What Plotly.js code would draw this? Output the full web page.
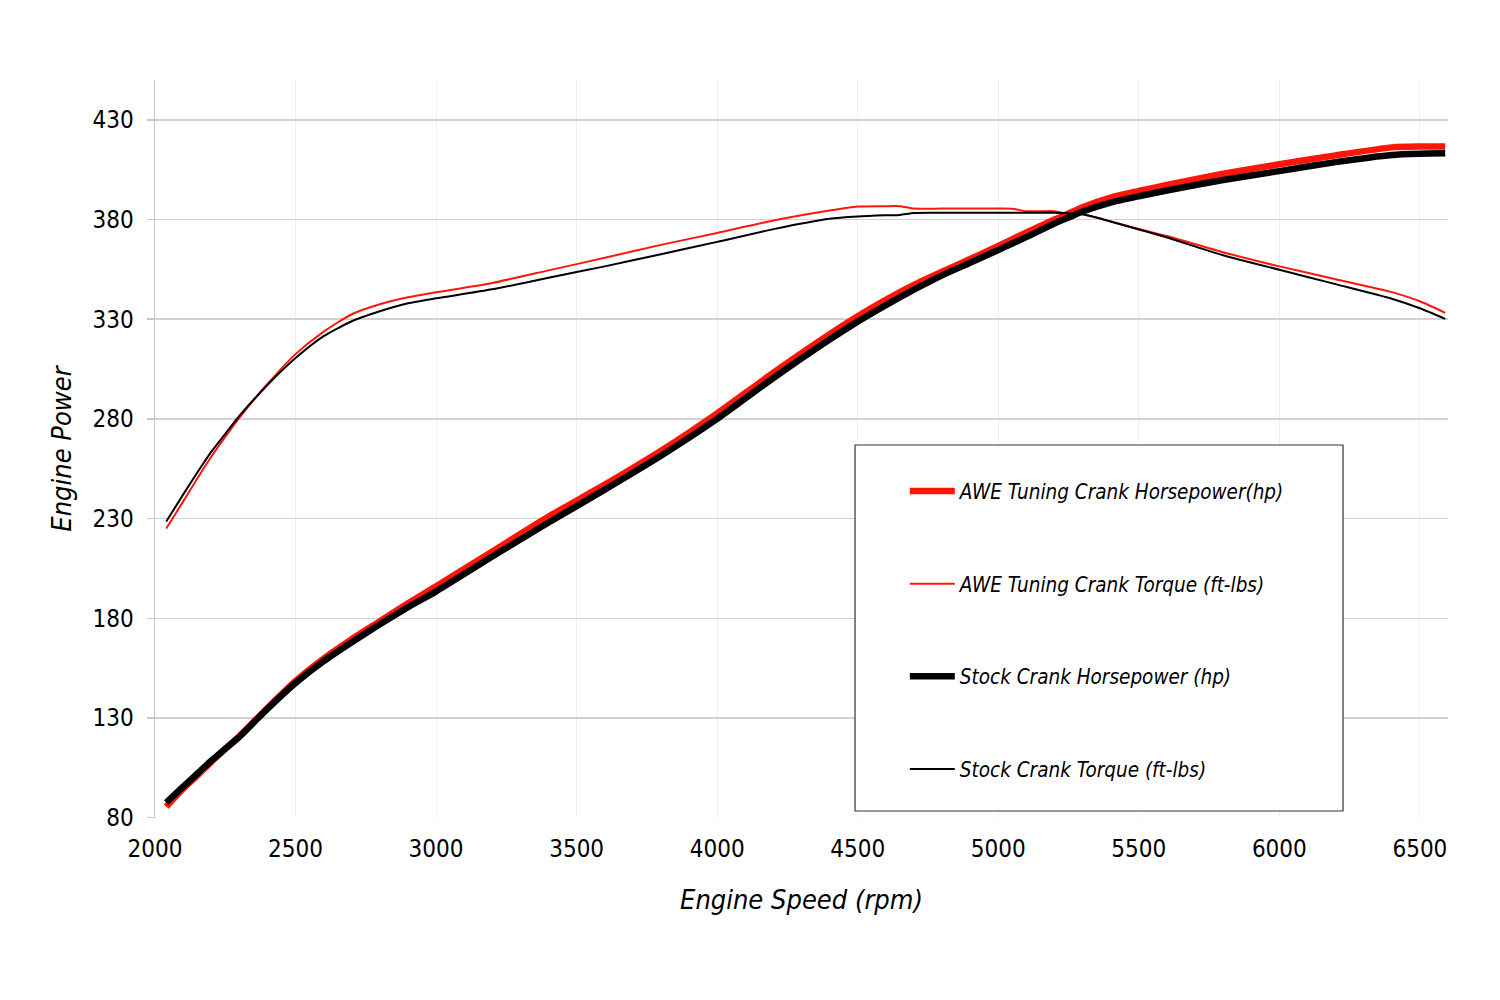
<!DOCTYPE html>
<html>
<head>
<meta charset="utf-8">
<script src="https://cdn.plot.ly/plotly-3.0.1.min.js"></script>
<style>
  html, body { margin: 0; padding: 0; background: #fff; }
  #chart { width: 1500px; height: 1000px; }
</style>
</head>
<body>
<div id="chart"></div>
<script>
// engine speed (rpm) shared by all four runs
const rpm = [2040, 2100, 2150, 2200, 2250, 2300, 2400, 2500, 2600, 2700, 2800, 2900, 3000, 3200, 3400,
  3600, 3800, 4000, 4200, 4400, 4500, 4600, 4650, 4700, 4800, 4900, 5000, 5050, 5100, 5200, 5250,
  5300, 5400, 5500, 5600, 5800, 6000, 6200, 6400, 6500, 6590];

const aweHp = [85.5, 94.5, 101, 108, 114.5, 120.8, 135, 148.5, 159.8, 169.5, 178.5, 187.5, 196, 213.5, 231,
  247, 264, 282.8, 303.2, 322.5, 331.5, 339.7, 343.6, 347.2, 353.8, 360.2, 366.8, 370.2, 373.5, 380, 383,
  386.2, 391, 394.3, 397.4, 403, 407.7, 412.2, 416.2, 416.6, 416.6];

const aweTorque = [225, 238.5, 250, 261, 271, 280.5, 297.5, 312.5, 323.8, 332.5, 337.5, 341, 343.5, 348.2, 354.5,
  360.8, 367.3, 373.3, 379.5, 384.5, 386.5, 386.7, 386.7, 385.5, 385.5, 385.5, 385.5, 385.4, 384.2, 384.2, 382.8,
  382.6, 379, 375.3, 371.7, 363.6, 356.5, 350.1, 343.6, 339, 333.2];

const stockHp = [87.5, 95.5, 102, 108.5, 114.5, 120.5, 134.5, 147.5, 158.5, 168, 177, 185.5, 193.5, 211, 228,
  244.5, 261.5, 280, 300.5, 319.8, 328.8, 337, 341, 344.8, 352, 358.3, 364.7, 368, 371.2, 378, 381,
  384, 388.5, 391.7, 394.6, 399.8, 404.3, 408.8, 412.4, 413, 413.2];

const stockTorque = [228.5, 242, 253, 263.5, 272.5, 281.5, 297, 310.5, 321.5, 329, 334, 338, 340.5, 345, 350.8,
  356.5, 362.6, 368.8, 375.2, 380.4, 381.5, 382.1, 382.3, 383.3, 383.4, 383.4, 383.4, 383.4, 383.4, 383.4, 383.1,
  382.6, 379, 375, 371, 362.1, 354.8, 347.6, 340.3, 335.5, 330.2];

const RED = '#ff1608';
const BLACK = '#000000';
const tickFont = { family: 'Liberation Sans Narrow, DejaVu Sans Condensed, sans-serif', size: 24, color: '#000' };
const titleFont = { family: 'DejaVu Sans Condensed, DejaVu Sans, sans-serif', size: 27, color: '#000', style: 'italic' };

const traces = [
  { x: rpm, y: aweHp, name: 'AWE Tuning Crank Horsepower(hp)', legendgroup: 'a',
    type: 'scatter', mode: 'lines', line: { color: RED, width: 6.5, shape: 'spline', smoothing: 0.6 } },
  { x: rpm, y: aweTorque, name: 'AWE Tuning Crank Torque (ft-lbs)', legendgroup: 'b',
    type: 'scatter', mode: 'lines', line: { color: RED, width: 2, shape: 'spline', smoothing: 0.6 } },
  { x: rpm, y: stockHp, name: 'Stock Crank Horsepower (hp)', legendgroup: 'c',
    type: 'scatter', mode: 'lines', line: { color: BLACK, width: 6.5, shape: 'spline', smoothing: 0.6 } },
  { x: rpm, y: stockTorque, name: 'Stock Crank Torque (ft-lbs)', legendgroup: 'd',
    type: 'scatter', mode: 'lines', line: { color: BLACK, width: 2, shape: 'spline', smoothing: 0.6 } }
];

const layout = {
  width: 1500,
  height: 1000,
  paper_bgcolor: '#fff',
  plot_bgcolor: '#fff',
  margin: { l: 155, r: 52, t: 80, b: 182 },
  showlegend: true,
  xaxis: {
    range: [2000, 6600],
    tick0: 2000,
    dtick: 500,
    showgrid: true,
    gridcolor: '#efefef',
    gridwidth: 1,
    zeroline: false,
    showline: false,
    ticks: '',
    ticklabelstandoff: 14,
    tickfont: tickFont,
    title: { text: 'Engine Speed (rpm)', font: titleFont, standoff: 28 }
  },
  yaxis: {
    range: [79.8, 450],
    tick0: 80,
    dtick: 50,
    showgrid: true,
    gridcolor: '#d2d2d2',
    gridwidth: 1.5,
    zeroline: false,
    showline: true,
    linecolor: '#c8c8c8',
    linewidth: 1.5,
    ticks: 'outside',
    ticklen: 7,
    tickwidth: 1.5,
    tickcolor: '#c8c8c8',
    ticklabelstandoff: 8,
    tickfont: tickFont,
    title: { text: 'Engine Power', font: titleFont, standoff: 13 }
  },
  legend: {
    x: 0.5799,
    y: 0.4699,
    xanchor: 'left',
    yanchor: 'top',
    bgcolor: 'rgba(0,0,0,0)',
    borderwidth: 0,
    tracegroupgap: 63,
    itemwidth: 45,
    font: { family: 'DejaVu Sans Condensed, DejaVu Sans, sans-serif', size: 20.5, color: '#000', style: 'italic' }
  },
  shapes: [
    { type: 'rect', xref: 'paper', yref: 'paper', x0: 0.5414, x1: 0.9188, y0: 0.0095, y1: 0.5054,
      line: { color: '#333', width: 1.2 }, fillcolor: '#fff', layer: 'above' }
  ]
};

Plotly.newPlot('chart', traces, layout, { displayModeBar: false, staticPlot: true });
</script>
</body>
</html>
